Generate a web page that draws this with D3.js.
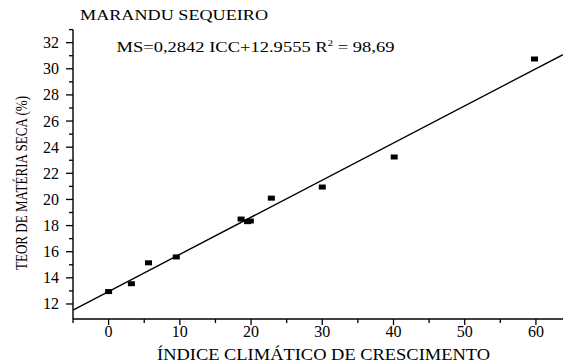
<!DOCTYPE html>
<html><head><meta charset="utf-8">
<script src="https://cdn.jsdelivr.net/npm/d3@7"></script>
<style>body{margin:0;background:#fff}svg{display:block}text{font-family:"Liberation Serif","Times New Roman",serif;fill:#000}</style>
</head><body><svg id="c" width="563" height="364"></svg>
<script>
const icc = [0, 3.2, 5.6, 9.5, 18.6, 19.5, 19.9, 22.85, 30.0, 40.1, 59.8];
const ms  = [12.95, 13.55, 15.15, 15.6, 18.5, 18.3, 18.35, 20.1, 20.95, 23.25, 30.75];
const slope = 0.2842, intercept = 12.9555;
const xTicks = [0, 10, 20, 30, 40, 50, 60];
const yTicks = [12, 14, 16, 18, 20, 22, 24, 26, 28, 30, 32];
const title = "MARANDU SEQUEIRO";
const xTitle = "ÍNDICE CLIMÁTICO DE CRESCIMENTO";
const yTitle = "TEOR DE MATÉRIA SECA (%)";

const svg = d3.select("#c");
const x = d3.scaleLinear().domain([-5, 63.8]).range([73, 563]);
const y = d3.scaleLinear().domain([10.85, 33]).range([319, 29.6]);

// axes
const xMinor = d3.range(-5, 64, 5);
const yMinor = d3.range(12, 33.5, 1);
const gx = svg.append("g").attr("transform", "translate(0,319)");
gx.append("line").attr("x1", x.range()[0]).attr("x2", x.range()[1]).attr("stroke", "#000").attr("stroke-width", 1.4);
gx.selectAll("line.t").data(xMinor).join("line").attr("class","t")
  .attr("x1", d => x(d)).attr("x2", d => x(d)).attr("y1", 0)
  .attr("y2", d => xTicks.includes(d) ? 6 : 4).attr("stroke", "#000").attr("stroke-width", 1.3);
gx.selectAll("text").data(xTicks).join("text")
  .attr("x", d => x(d)).attr("y", 18).attr("text-anchor", "middle")
  .style("font-size", "16px").text(d => d);

const gy = svg.append("g").attr("transform", "translate(73,0)");
gy.append("line").attr("y1", y.range()[0]).attr("y2", y.range()[1]).attr("stroke", "#000").attr("stroke-width", 1.4);
gy.selectAll("line.t").data(yMinor).join("line").attr("class","t")
  .attr("y1", d => y(d)).attr("y2", d => y(d)).attr("x1", 0)
  .attr("x2", d => yTicks.includes(d) ? -7 : -4).attr("stroke", "#000").attr("stroke-width", 1.3);
gy.selectAll("text").data(yTicks).join("text")
  .attr("x", -14).attr("y", d => y(d) + 5.5).attr("text-anchor", "end")
  .style("font-size", "16px").text(d => d);

// regression line
const xd = x.domain();
svg.append("line")
  .attr("x1", x(xd[0])).attr("y1", y(slope * xd[0] + intercept))
  .attr("x2", x(xd[1])).attr("y2", y(slope * xd[1] + intercept))
  .attr("stroke", "#000").attr("stroke-width", 1.4);

// points
svg.selectAll("rect.p").data(icc).join("rect").attr("class","p")
  .attr("x", (d) => x(d) - 3.5).attr("y", (d, i) => y(ms[i]) - 2.5)
  .attr("width", 7).attr("height", 5).attr("fill", "#000");

// texts
svg.append("text").attr("x", 80).attr("y", 20).style("font-size", "14px")
  .attr("textLength", 188).attr("lengthAdjust", "spacingAndGlyphs").text(title);
const eq = svg.append("text").attr("x", 116.5).attr("y", 52).style("font-size", "15px")
  .attr("textLength", 278).attr("lengthAdjust", "spacingAndGlyphs");
eq.append("tspan").text("MS=0,2842 ICC+12.9555 R");
eq.append("tspan").attr("dy", -6).style("font-size", "9px").text("2");
eq.append("tspan").attr("dy", 6).text(" = 98,69");
svg.append("text").attr("x", 157).attr("y", 360).style("font-size", "16px")
  .attr("textLength", 333).attr("lengthAdjust", "spacingAndGlyphs").text(xTitle);
svg.append("text").attr("transform", "translate(27,270) rotate(-90)").style("font-size", "17px")
  .attr("textLength", 174).attr("lengthAdjust", "spacingAndGlyphs").text(yTitle);
</script></body></html>
